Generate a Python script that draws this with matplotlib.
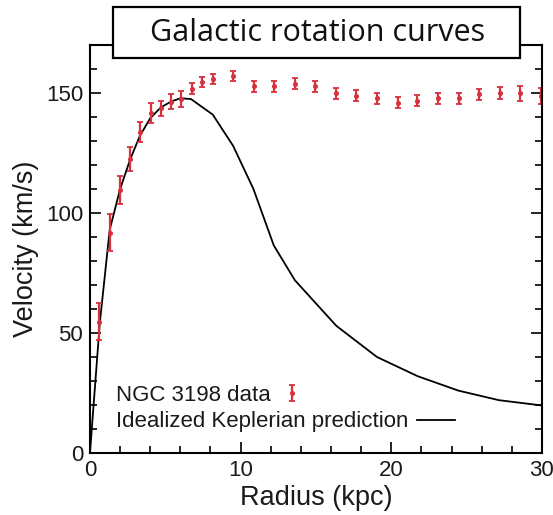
import matplotlib.pyplot as plt
from matplotlib.patches import Rectangle
from matplotlib.legend_handler import HandlerErrorbar
from matplotlib.ticker import MultipleLocator

# NGC 3198 measured rotation velocities
radius = [0.62, 1.31, 1.97, 2.65, 3.34, 4.03, 4.69, 5.38, 6.06, 6.77, 7.45, 8.14,
          9.49, 10.86, 12.22, 13.58, 14.95, 16.30, 17.67, 19.04, 20.42, 21.74,
          23.11, 24.48, 25.83, 27.21, 28.56, 29.91]
velocity = [54.7, 91.8, 109.6, 122.4, 133.9, 141.8, 143.6, 146.4, 147.4, 151.7,
            154.7, 155.7, 157.0, 152.9, 152.9, 153.8, 152.9, 149.9, 148.8, 147.9,
            146.0, 146.8, 147.8, 147.8, 149.4, 149.9, 149.9, 148.8]
velocity_err = [7.8, 7.8, 6.0, 5.1, 4.2, 4.2, 3.1, 3.1, 3.3, 2.3, 2.1, 2.1,
                2.1, 2.3, 2.3, 2.3, 2.3, 2.3, 2.3, 2.3, 2.3, 2.3, 2.3, 2.3,
                2.3, 2.6, 3.1, 3.3]

# idealized Keplerian curve
kep_radius = [0, 0.65, 1.31, 2.0, 2.65, 3.3, 4.0, 4.7, 5.4, 6.0, 6.7, 8.15,
              9.5, 10.85, 12.2, 13.6, 16.35, 19.05, 21.75, 24.45, 27.15, 30.0]
kep_velocity = [0, 54, 93, 110, 122, 132, 139.5, 144, 146.5, 147.8, 147.5, 141,
                128, 110, 86.5, 72, 53, 40, 32, 26, 22, 19.8]

red = '#d8303c'
ink = '#1a1a1a'

plt.rcParams['font.family'] = ['Liberation Sans', 'DejaVu Sans']

fig = plt.figure(figsize=(5.53, 5.15), dpi=100)
ax = fig.add_axes([0.1627, 0.1204, 0.8173, 0.7922])

line, = ax.plot(kep_radius, kep_velocity, color='black', linewidth=1.3)
err = ax.errorbar(radius, velocity, yerr=velocity_err, fmt='o', color=red,
                  markersize=2.6, elinewidth=1.6, capsize=2.2, capthick=1.3)

ax.set_xlim(0, 30)
ax.set_ylim(0, 170)
ax.xaxis.set_major_locator(MultipleLocator(10))
ax.xaxis.set_minor_locator(MultipleLocator(2))
ax.yaxis.set_major_locator(MultipleLocator(50))
ax.yaxis.set_minor_locator(MultipleLocator(10))
ax.tick_params(which='both', direction='in', top=True, right=True,
               width=1.2, labelsize=16, colors='black', labelcolor=ink)
ax.tick_params(which='major', length=8, pad=5)
ax.tick_params(which='minor', length=5)
for spine in ax.spines.values():
    spine.set_linewidth(1.5)

ax.set_xlabel('Radius (kpc)', fontsize=19.5, color=ink, labelpad=3)
ax.set_ylabel('Velocity (km/s)', fontsize=19.5, color=ink, labelpad=5)

# legend rows: label first, key after it
leg1 = ax.legend([err], ['NGC 3198 data'], loc='center left',
                 bbox_to_anchor=(0.058, 0.142), frameon=False, markerfirst=False,
                 fontsize=16, labelcolor=ink, borderpad=0, borderaxespad=0,
                 handlelength=0.9, handletextpad=0.5,
                 handler_map={type(err): HandlerErrorbar(xerr_size=0.36)})
ax.add_artist(leg1)
ax.legend([line], ['Idealized Keplerian prediction'], loc='center left',
          bbox_to_anchor=(0.058, 0.076), frameon=False, markerfirst=False,
          fontsize=16, labelcolor=ink, borderpad=0, borderaxespad=0,
          handlelength=1.7, handletextpad=0.4)

# boxed heading over the top spine
box = Rectangle((113 / 553, 1 - 58 / 515), 407 / 553, 51 / 515,
                transform=fig.transFigure, facecolor='white', edgecolor='black',
                linewidth=1.6, zorder=10)
fig.add_artist(box)
fig.text(318 / 553, 1 - 33 / 515, 'Galactic rotation curves', ha='center',
         va='center', fontsize=22, family='Open Sans', color='#111111', zorder=11)

fig.savefig('out.png', dpi=100)
